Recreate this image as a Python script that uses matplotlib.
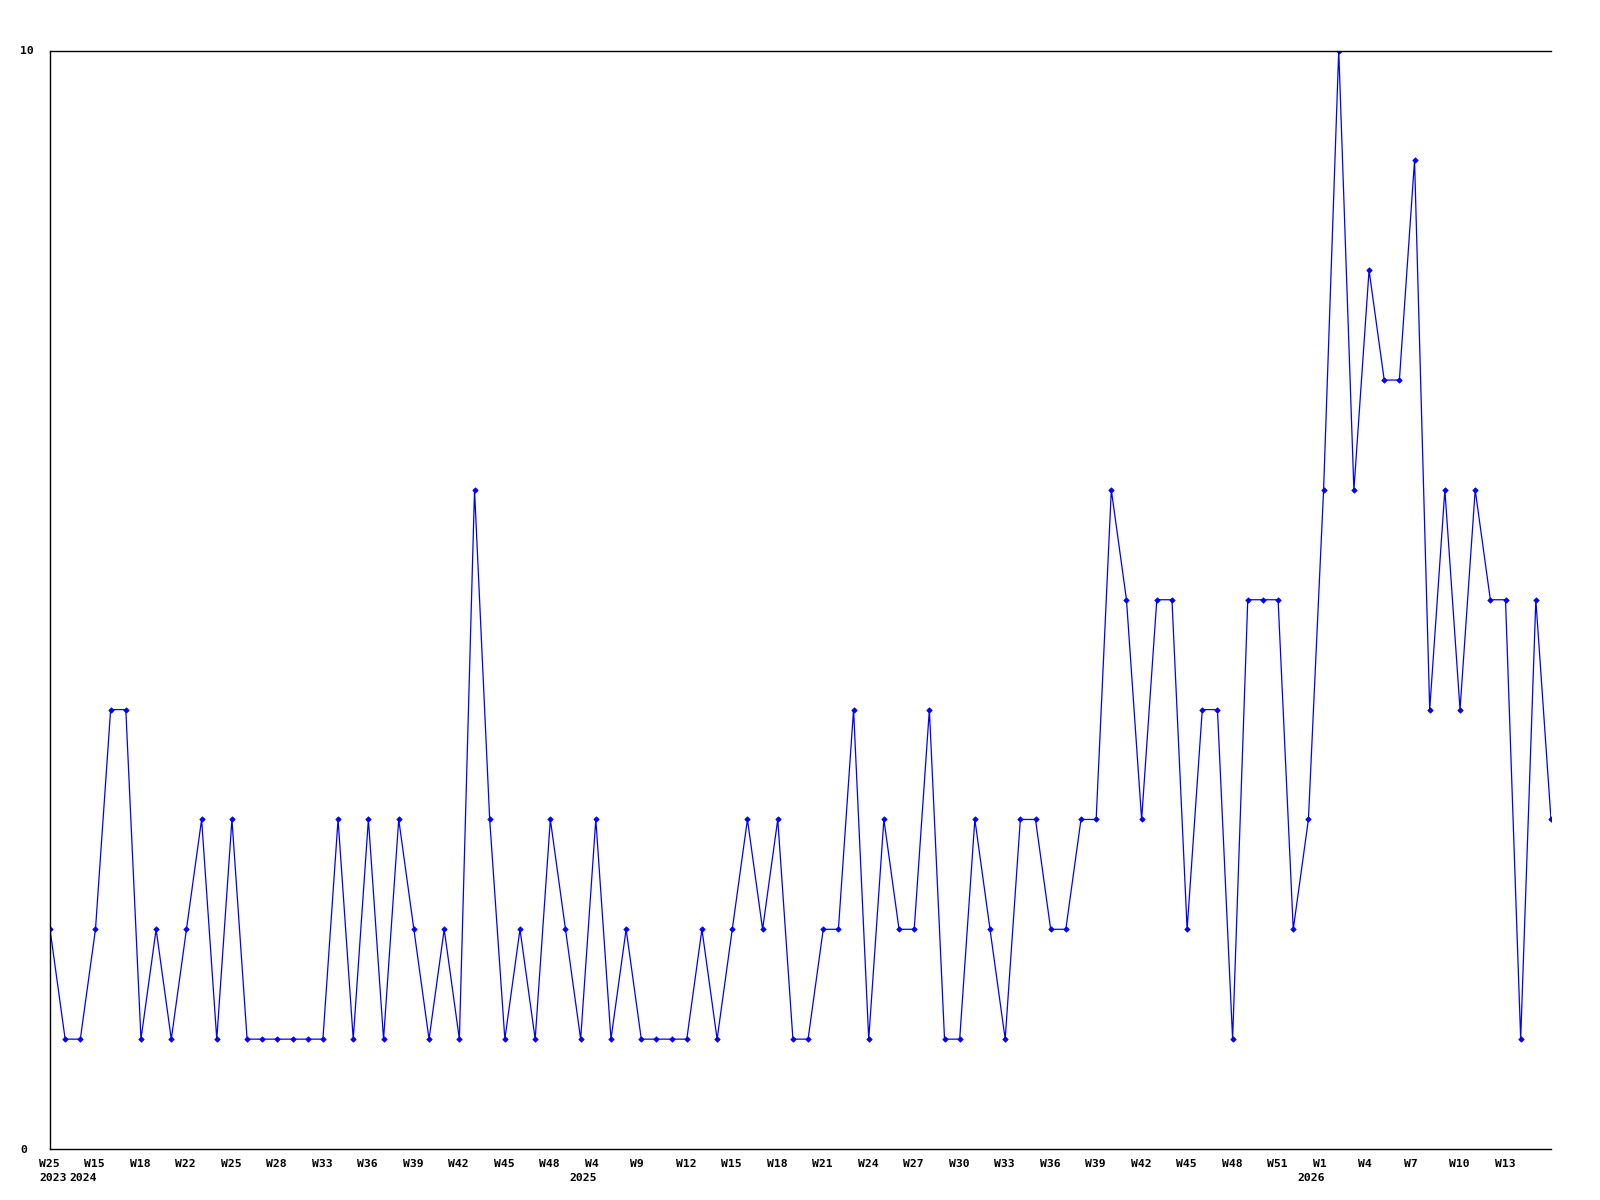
import matplotlib
matplotlib.use("Agg")
import matplotlib.pyplot as plt
from matplotlib.transforms import ScaledTranslation

values = [2, 1, 1, 2, 4, 4, 1, 2, 1, 2,
          3, 1, 3, 1, 1, 1, 1, 1, 1, 3,
          1, 3, 1, 3, 2, 1, 2, 1, 6, 3,
          1, 2, 1, 3, 2, 1, 3, 1, 2, 1,
          1, 1, 1, 2, 1, 2, 3, 2, 3, 1,
          1, 2, 2, 4, 1, 3, 2, 2, 4, 1,
          1, 3, 2, 1, 3, 3, 2, 2, 3, 3,
          6, 5, 3, 5, 5, 2, 4, 4, 1, 5,
          5, 5, 2, 3, 6, 10, 6, 8, 7, 7,
          9, 4, 6, 4, 6, 5, 5, 1, 5, 3]

tick_weeks = ["W25", "W15", "W18", "W22", "W25", "W28", "W33", "W36", "W39",
              "W42", "W45", "W48", "W4", "W9", "W12", "W15", "W18", "W21",
              "W24", "W27", "W30", "W33", "W36", "W39", "W42", "W45", "W48",
              "W51", "W1", "W4", "W7", "W10", "W13"]
tick_years = ["2023", "2024", "", "", "", "", "", "", "",
              "", "", "", "2025", "", "", "", "", "",
              "", "", "", "", "", "", "", "", "",
              "", "2026", "", "", "", ""]
y_ticks = [0, 10]
tick_step = 3

fig = plt.figure(figsize=(16, 12), dpi=100)
ax = fig.add_axes([50 / 1600, 1 - 1149 / 1200, 1501 / 1600, (1149 - 50.5) / 1200])

x = list(range(len(values)))
ax.plot(x, values, color="#0000ff", linewidth=0.9, marker="D", markersize=2.8,
        markerfacecolor="#0000ff", markeredgecolor="#0000ff", markeredgewidth=0.5)

ax.set_xlim(0, len(values) - 1)
ax.set_ylim(0, 10)

for side in ["left", "bottom", "top"]:
    ax.spines[side].set_color("black")
    ax.spines[side].set_linewidth(1.0)
ax.spines["right"].set_visible(False)

font = dict(family="DejaVu Sans Mono", weight="bold", size=8.2)

ax.set_yticks(y_ticks)
ax.set_yticklabels([str(v) for v in y_ticks], **font)
ax.tick_params(axis="y", length=0, pad=21.6)
for lab in ax.get_yticklabels():
    lab.set_horizontalalignment("left")

ax.set_xticks([])

px = 1 / 100.0
base = ax.get_xaxis_transform()
for i, (wk, yr) in enumerate(zip(tick_weeks, tick_years)):
    xi = i * tick_step
    ax.text(xi, 0, wk, transform=base + ScaledTranslation(-11 * px, -10 * px, fig.dpi_scale_trans),
            ha="left", va="top", clip_on=False, **font)
    if yr:
        if i == 0:
            t = base + ScaledTranslation(-11 * px, -24 * px, fig.dpi_scale_trans)
            ha = "left"
        else:
            t = base + ScaledTranslation(1 * px, -24 * px, fig.dpi_scale_trans)
            ha = "right"
        ax.text(xi, 0, yr, transform=t, ha=ha, va="top", clip_on=False, **font)

fig.savefig("out.png", dpi=100)
